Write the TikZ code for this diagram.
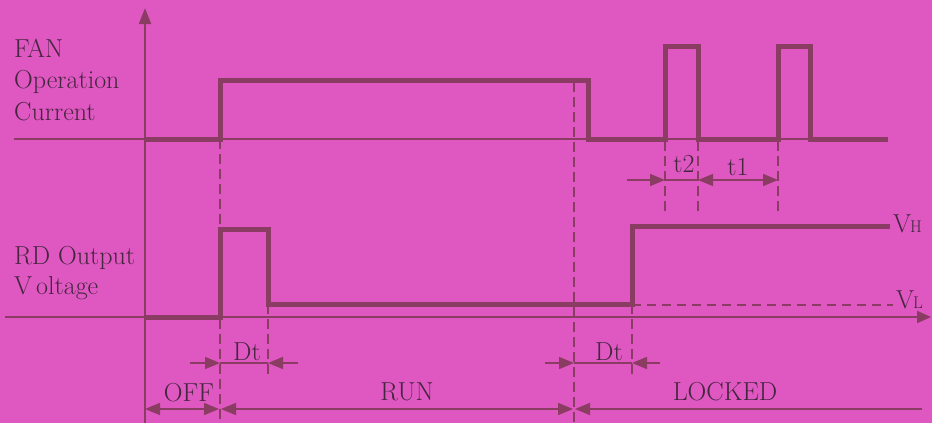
\documentclass[tikz,border=0pt]{standalone}
\usetikzlibrary{arrows.meta}
\definecolor{bg}{HTML}{DF57C1}
\definecolor{ln}{HTML}{8A3C63}
\definecolor{tx}{HTML}{45263F}
\begin{document}
\begin{tikzpicture}[x=1pt,y=-1pt,
  axisline/.style={ln, line width=2pt},
  wave/.style={ln, line width=5pt},
  dashv/.style={ln, line width=2pt, dash pattern=on 10pt off 5pt},
  dashh/.style={ln, line width=2pt, dash pattern=on 9pt off 6pt},
  dimline/.style={ln, line width=1.6pt},
  tri/.tip={Triangle[length=15pt,width=12pt]},
  lbl/.style={text=tx, inner sep=0pt, font=\fontsize{26}{30}\selectfont},
]
\fill[bg] (0,0) rectangle (932,423);
\useasboundingbox (0,0) rectangle (932,423);

% axes
\draw[axisline, -{Triangle[length=16pt,width=12pt]}] (145,423) -- (145,8);
\draw[axisline] (14,139) -- (888,139);
\draw[axisline, -{Triangle[length=14pt,width=12pt]}] (5,317) -- (931,317);

% dashed guides
\draw[dashv] (220,139) -- (220,423);
\draw[dashv] (268,304) -- (268,376);
\draw[dashv] (574,82) -- (574,423);
\draw[dashv] (632,304) -- (632,376);
\draw[dashv] (665,141) -- (665,214);
\draw[dashv] (698,141) -- (698,214);
\draw[dashv] (778,141) -- (778,214);
\draw[dashh] (632,305) -- (893,305);

% waveforms
\draw[wave] (145,139) -- (220,139) -- (220,80) -- (588,80) -- (588,139)
  -- (665,139) -- (665,46) -- (698,46) -- (698,139) -- (778,139)
  -- (778,46) -- (810,46) -- (810,139) -- (888,139);
\draw[wave] (145,317) -- (220,317) -- (220,229) -- (268,229) -- (268,304)
  -- (632,304) -- (632,226) -- (890,226);

% t2 / t1 dimensions
\draw[dimline, -tri] (627,180) -- (665,180);
\draw[dimline] (665,180) -- (698,180);
\draw[dimline, tri-tri] (698,180) -- (778,180);

% Dt dimensions
\draw[dimline, -tri] (190,363) -- (220,363);
\draw[dimline] (220,363) -- (268,363);
\draw[dimline, -tri] (298,363) -- (268,363);
\draw[dimline, -tri] (545,363) -- (574,363);
\draw[dimline] (574,363) -- (632,363);
\draw[dimline, -tri] (660,363) -- (632,363);

% state dimensions
\draw[dimline, tri-tri] (145,409) -- (219,409);
\draw[dimline, tri-tri] (221,409) -- (573,409);
\draw[dimline, tri-] (575,409) -- (922,409);

% labels
\node[lbl, anchor=base west] (fan) at (14,57) {FAN};
\node[lbl, anchor=base west] (op) at (14,88) {Operation};
\node[lbl, anchor=base west] (cur) at (14,120) {Current};
\node[lbl, anchor=base west] (rd) at (14,264) {RD Output};
\node[lbl, anchor=base west] (vol) at (14,294) {V\kern4pt oltage};
\node[lbl, anchor=base] (t2) at (684,172) {t2};
\node[lbl, anchor=base] (t1) at (738,175) {t1};
\node[lbl, anchor=base west] (vh) at (893,232) {V\kern-1pt{\fontsize{17}{17}\selectfont H}};
\node[lbl, anchor=base west] (vl) at (896,308) {V\kern-1pt{\fontsize{17}{17}\selectfont L}};
\node[lbl, anchor=base] (dt1) at (247,360) {Dt};
\node[lbl, anchor=base] (dt2) at (609,360) {Dt};
\node[lbl, anchor=base] (off) at (189,401) {OFF};
\node[lbl, anchor=base] (run) at (407,400) {RUN};
\node[lbl, anchor=base] (lock) at (725,400) {LOCKED};
\end{tikzpicture}
\end{document}
